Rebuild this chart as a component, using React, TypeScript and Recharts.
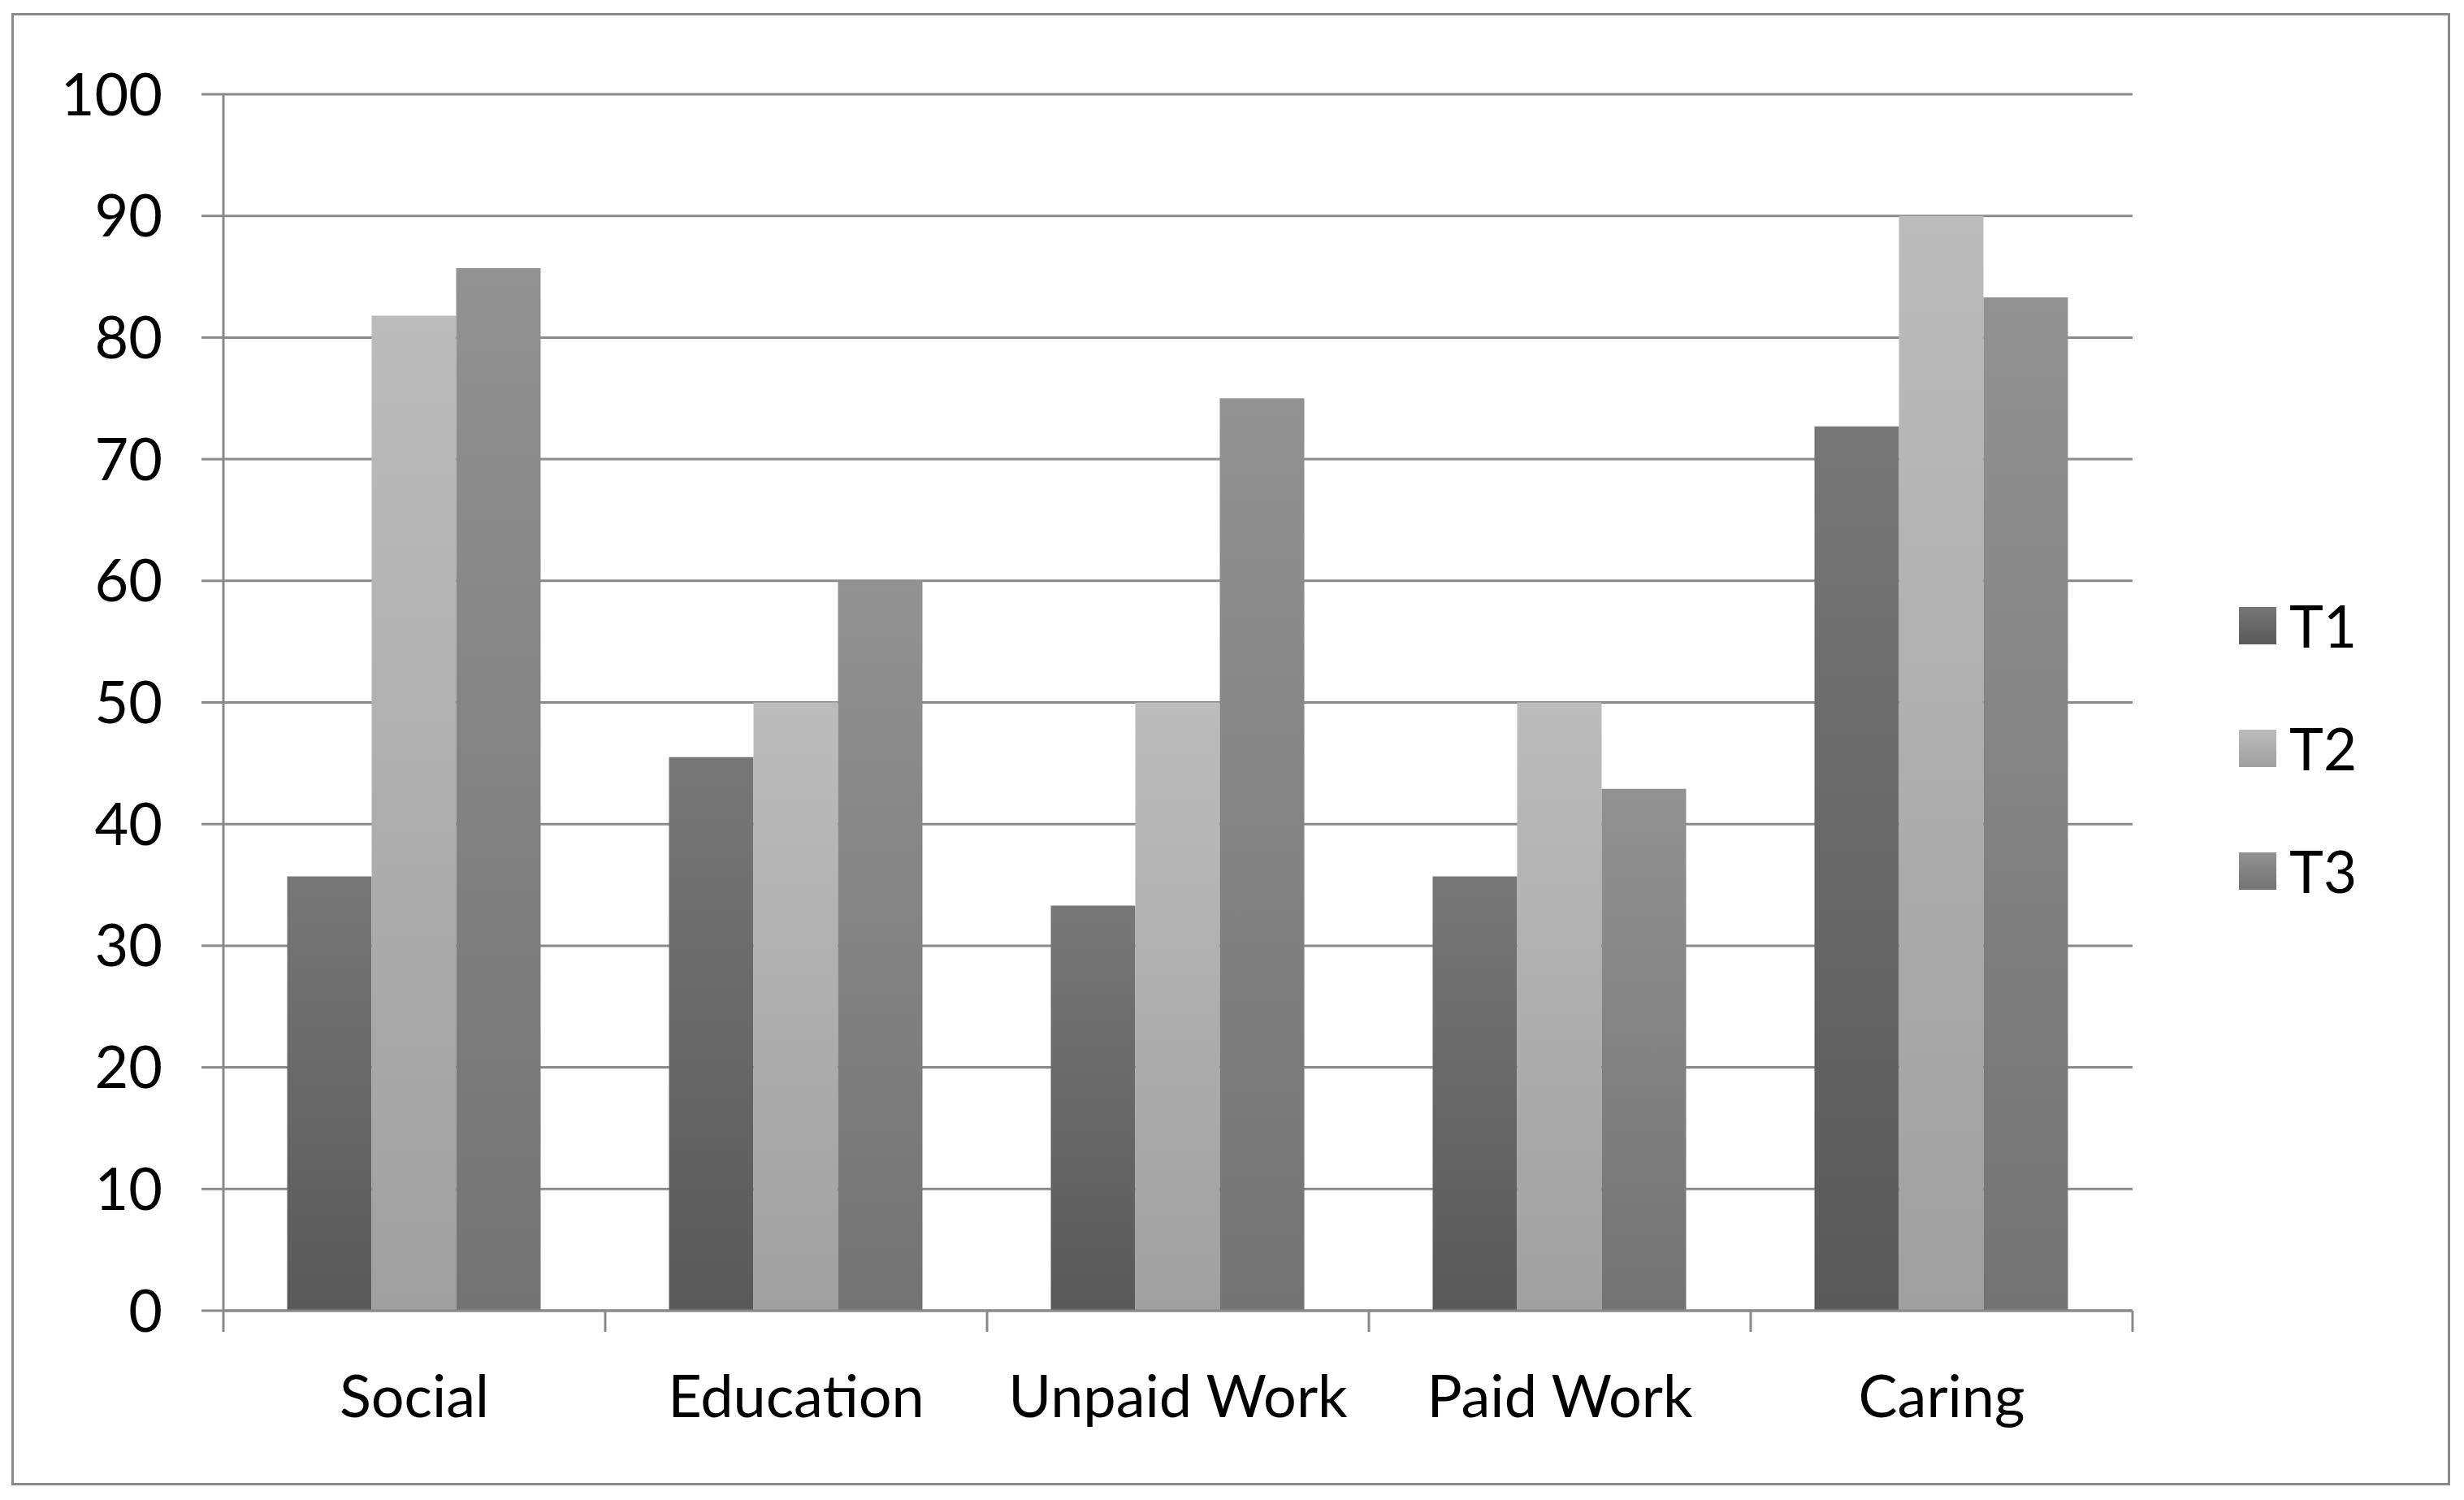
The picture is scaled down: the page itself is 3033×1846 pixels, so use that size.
import { BarChart, Bar, XAxis, YAxis, CartesianGrid, Legend } from "recharts";

const categories = ["Social", "Education", "Unpaid Work", "Paid Work", "Caring"];
const t1Values = [35.7, 45.5, 33.3, 35.7, 72.7];
const t2Values = [81.8, 50, 50, 50, 90];
const t3Values = [85.7, 60, 75, 42.9, 83.3];
const yTicks = [0, 10, 20, 30, 40, 50, 60, 70, 80, 90, 100];

const data = categories.map((name, i) => ({
  name,
  T1: t1Values[i],
  T2: t2Values[i],
  T3: t3Values[i],
}));

const FONT = "Lato, 'Noto Sans', sans-serif";
const LINE = "#8a8a8a";
const LABEL_GAP = 80;
const EDGE_TICK = 26;

const series = [
  { key: "T1", top: "#777777", bottom: "#595959" },
  { key: "T2", top: "#bcbcbc", bottom: "#a0a0a0" },
  { key: "T3", top: "#929292", bottom: "#737373" },
];

// category label plus the small tick marks at the band edges
function CategoryTick(props: any) {
  const { x, y, payload, index } = props;
  const half = payload && payload.offset ? payload.offset : 0;
  const axisY = y - LABEL_GAP;
  const last = index === categories.length - 1;
  return (
    <g>
      <line x1={x - half} x2={x - half} y1={axisY} y2={axisY + EDGE_TICK} stroke={LINE} strokeWidth={3} />
      {last && (
        <line x1={x + half} x2={x + half} y1={axisY} y2={axisY + EDGE_TICK} stroke={LINE} strokeWidth={3} />
      )}
      <text
        x={x}
        y={y}
        dy="0.71em"
        textAnchor="middle"
        fill="#000"
        fontSize={72}
        fontFamily={FONT}
      >
        {payload.value}
      </text>
    </g>
  );
}

function LegendBox() {
  return (
    <div style={{ fontFamily: FONT, fontSize: 71, color: "#000" }}>
      {series.map((s) => (
        <div
          key={s.key}
          style={{ display: "flex", alignItems: "center", height: 151 }}
        >
          <div
            style={{
              width: 46,
              height: 46,
              background: `linear-gradient(${s.top}, ${s.bottom})`,
              marginRight: 16,
            }}
          />
          <span>{s.key}</span>
        </div>
      ))}
    </div>
  );
}

export default function App() {
  return (
    <div style={{ position: "absolute", left: 0, top: 0, width: 3033, height: 1846, background: "#fff" }}>
      <div
        style={{
          position: "absolute",
          left: 14,
          top: 16,
          width: 2996,
          height: 1806,
          border: `3px solid ${LINE}`,
        }}
      />
      <div style={{ position: "absolute", left: 0, top: 0 }}>
        <BarChart
          width={3033}
          height={1846}
          data={data}
          margin={{ top: 116, right: 208, bottom: 232, left: 0 }}
          barCategoryGap="16.7%"
          barGap={0}
        >
          <defs>
            {series.map((s) => (
              <linearGradient key={s.key} id={`grad-${s.key}`} x1="0" y1="0" x2="0" y2="1">
                <stop offset="0%" stopColor={s.top} />
                <stop offset="100%" stopColor={s.bottom} />
              </linearGradient>
            ))}
          </defs>
          <CartesianGrid vertical={false} stroke={LINE} strokeWidth={3} />
          <XAxis
            dataKey="name"
            height={1}
            tickLine={false}
            tickSize={0}
            tickMargin={LABEL_GAP}
            axisLine={{ stroke: LINE, strokeWidth: 3 }}
            tick={<CategoryTick />}
            interval={0}
          />
          <YAxis
            domain={[0, 100]}
            ticks={yTicks}
            width={275}
            tickSize={27}
            tickMargin={48}
            tickLine={{ stroke: LINE, strokeWidth: 3 }}
            axisLine={{ stroke: LINE, strokeWidth: 3 }}
            tick={{ fill: "#000", fontSize: 72, fontFamily: FONT }}
            interval={0}
          />
          <Legend
            layout="vertical"
            align="right"
            verticalAlign="middle"
            content={() => <LegendBox />}
            wrapperStyle={{ position: "absolute", left: 2756, top: 694, width: 200 }}
          />
          {series.map((s) => (
            <Bar
              key={s.key}
              dataKey={s.key}
              fill={`url(#grad-${s.key})`}
              isAnimationActive={false}
            />
          ))}
        </BarChart>
      </div>
    </div>
  );
}
